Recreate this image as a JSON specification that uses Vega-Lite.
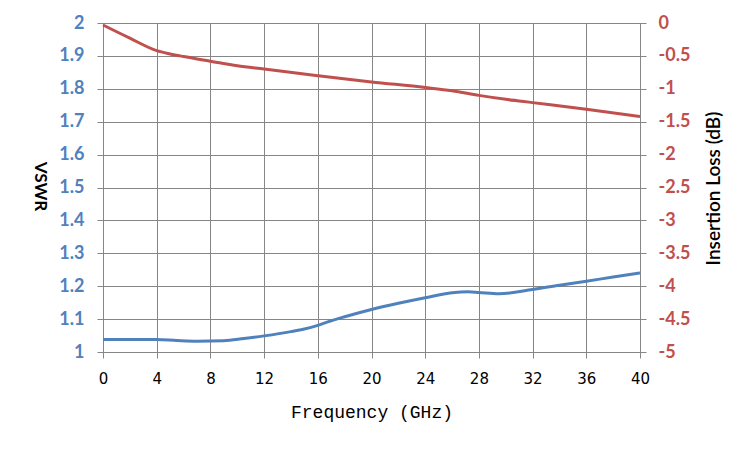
{
  "$schema": "https://vega.github.io/schema/vega-lite/v6.json",
  "description": "VSWR and insertion loss versus frequency",
  "width": 537,
  "height": 329,
  "autosize": {"type": "none"},
  "padding": {"left": 103, "top": 23, "right": 110, "bottom": 98},
  "background": "white",
  "datasets": {
    "vswr": [
      {"freq": 0, "vswr": 1.038},
      {"freq": 2, "vswr": 1.038},
      {"freq": 4, "vswr": 1.038},
      {"freq": 5.5, "vswr": 1.035},
      {"freq": 7, "vswr": 1.033},
      {"freq": 9, "vswr": 1.034},
      {"freq": 10.5, "vswr": 1.041},
      {"freq": 12, "vswr": 1.049},
      {"freq": 14, "vswr": 1.062},
      {"freq": 15, "vswr": 1.07},
      {"freq": 16, "vswr": 1.081},
      {"freq": 17, "vswr": 1.095},
      {"freq": 18, "vswr": 1.107},
      {"freq": 20, "vswr": 1.129},
      {"freq": 22, "vswr": 1.148},
      {"freq": 24, "vswr": 1.165},
      {"freq": 26, "vswr": 1.18},
      {"freq": 27.2, "vswr": 1.183},
      {"freq": 28, "vswr": 1.181},
      {"freq": 29.5, "vswr": 1.177},
      {"freq": 32, "vswr": 1.19},
      {"freq": 34, "vswr": 1.203},
      {"freq": 36, "vswr": 1.215},
      {"freq": 38, "vswr": 1.228},
      {"freq": 40, "vswr": 1.24}
    ],
    "loss": [
      {"freq": 0, "loss": -0.03},
      {"freq": 2, "loss": -0.23},
      {"freq": 4, "loss": -0.42},
      {"freq": 5, "loss": -0.47},
      {"freq": 6, "loss": -0.51},
      {"freq": 8, "loss": -0.58},
      {"freq": 10, "loss": -0.65},
      {"freq": 12, "loss": -0.7},
      {"freq": 16, "loss": -0.8},
      {"freq": 20, "loss": -0.895},
      {"freq": 24, "loss": -0.98},
      {"freq": 26, "loss": -1.03},
      {"freq": 28, "loss": -1.1},
      {"freq": 30, "loss": -1.16},
      {"freq": 32, "loss": -1.21},
      {"freq": 36, "loss": -1.31},
      {"freq": 40, "loss": -1.42}
    ]
  },
  "config": {
    "view": {"stroke": "#868686", "strokeWidth": 1},
    "axis": {
      "gridColor": "#868686",
      "gridOpacity": 1,
      "gridWidth": 1,
      "domainColor": "#868686",
      "tickColor": "#868686",
      "tickSize": 6
    }
  },
  "layer": [
    {
      "data": {"name": "vswr"},
      "mark": {"type": "line", "color": "#4F81BD", "strokeWidth": 3, "interpolate": "monotone"},
      "encoding": {
        "x": {
          "field": "freq",
          "type": "quantitative",
          "scale": {"domain": [0, 40], "nice": false},
          "axis": {
            "title": "Frequency (GHz)",
            "values": [0, 4, 8, 12, 16, 20, 24, 28, 32, 36, 40],
            "labelFont": "DejaVu Sans",
            "labelFontSize": 15,
            "labelColor": "#000000",
            "labelPadding": 13,
            "labelFlush": false,
            "labelOverlap": false,
            "titleFont": "Liberation Mono",
            "titleFontSize": 18,
            "titleFontWeight": "normal",
            "titleColor": "#000000",
            "titleY": 60,
            "titleBaseline": "middle",
            "grid": true
          }
        },
        "y": {
          "field": "vswr",
          "type": "quantitative",
          "scale": {"domain": [1, 2], "nice": false, "zero": false},
          "axis": {
            "title": "VSWR",
            "orient": "left",
            "values": [1, 1.1, 1.2, 1.3, 1.4, 1.5, 1.6, 1.7, 1.8, 1.9, 2],
            "labelExpr": "'' + datum.value",
            "labelFont": "Lato",
            "labelFontSize": 18,
            "labelFontWeight": "bold",
            "labelColor": "#4F81BD",
            "labelPadding": 13,
            "labelFlush": false,
            "titleFont": "Lato",
            "titleFontSize": 17,
            "titleFontWeight": "bold",
            "titleColor": "#000000",
            "titleAngle": 90,
            "titleX": -64,
            "titleY": 163,
            "titleAlign": "center",
            "titleBaseline": "middle",
            "grid": true
          }
        }
      }
    },
    {
      "data": {"name": "loss"},
      "mark": {"type": "line", "color": "#C0504D", "strokeWidth": 3, "interpolate": "monotone"},
      "encoding": {
        "x": {"field": "freq", "type": "quantitative"},
        "y": {
          "field": "loss",
          "type": "quantitative",
          "scale": {"domain": [-5, 0], "nice": false},
          "axis": {
            "title": "Insertion Loss (dB)",
            "orient": "right",
            "values": [0, -0.5, -1, -1.5, -2, -2.5, -3, -3.5, -4, -4.5, -5],
            "labelExpr": "'' + datum.value",
            "labelFont": "Lato",
            "labelFontSize": 18,
            "labelFontWeight": "bold",
            "labelColor": "#C0504D",
            "labelPadding": 12,
            "labelFlush": false,
            "titleFont": "Lato",
            "titleFontSize": 19,
            "titleFontWeight": 600,
            "titleColor": "#000000",
            "titleAngle": 270,
            "titleX": 73,
            "titleY": 165,
            "titleAlign": "center",
            "titleBaseline": "middle",
            "grid": false
          }
        }
      }
    }
  ],
  "resolve": {"scale": {"y": "independent"}}
}
